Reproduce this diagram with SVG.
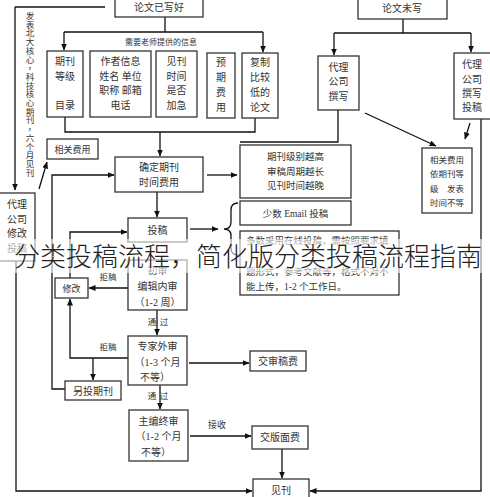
<svg xmlns="http://www.w3.org/2000/svg" width="490" height="497" viewBox="0 0 490 497">
<style>
.box{fill:#fff;stroke:#333;stroke-width:1.3}
.t{font-family:"Liberation Serif","Noto Sans CJK SC",serif;font-size:10px;fill:#333;text-anchor:middle}
.s{font-size:8.5px}
.ln{stroke:#111;stroke-width:1.3;fill:none}
.ar{marker-end:url(#ah)}
.title{font-family:"Noto Sans CJK SC","Noto Sans",sans-serif;font-size:26px;font-weight:300;fill:#222;text-anchor:middle}
</style>
<defs>
<marker id="ah" markerWidth="7" markerHeight="6" refX="6.5" refY="3" orient="auto" markerUnits="userSpaceOnUse">
<path d="M0,0 L7,3 L0,6 z" fill="#111"/>
</marker>
</defs>
<rect width="490" height="497" fill="#fff"/>
<g id="connectors">
<path class="ln" d="M15,7 H105"/>
<path class="ln ar" d="M15,7 V190"/>
<path class="ln ar" d="M16,261 V491 H252"/>
<path class="ln ar" d="M39,189 L47,162"/>
<path class="ln ar" d="M65,389 H52 V175 H114"/>
<path class="ln" d="M165,17 V32 M64,32 H263"/>
<path class="ln ar" d="M64,32 V50"/>
<path class="ln ar" d="M263,32 V52"/>
<path class="ln" d="M65,117 V132 H255 V118"/>
<path class="ln ar" d="M160,132 V156"/>
<path class="ln ar" d="M207,175 H237"/>
<path class="ln ar" d="M157,192 V217"/>
<path class="ln ar" d="M190,229 H218"/>
<path class="ln" d="M238,203 Q231,203 231,210 V222 Q231,229 224,229 Q231,229 231,236 V248 Q231,255 238,255"/>
<path class="ln ar" d="M70,278 V232 H127"/>
<path class="ln ar" d="M128,288 H89"/>
<path class="ln ar" d="M157,310 V335"/>
<path class="ln ar" d="M128,358 H70 V299"/>
<path class="ln ar" d="M93,358 V380"/>
<path class="ln ar" d="M189,363 H249"/>
<path class="ln ar" d="M160,385 V409"/>
<path class="ln ar" d="M190,436 H251"/>
<path class="ln ar" d="M282,449 V478"/>
<path class="ln ar" d="M481,119 V491 H310"/>
<path class="ln" d="M403,19 V33 M334,33 H471"/>
<path class="ln ar" d="M334,33 V55"/>
<path class="ln ar" d="M471,33 V52"/>
<path class="ln" d="M338,110 V142 H240"/>
<path class="ln ar" d="M365,113 L436,146"/>
<path class="ln ar" d="M470,123 L465,139"/>
<text class="t s" x="108" y="280">拒稿</text>
<text class="t s" x="108" y="350">拒稿</text>
<text class="t s" x="152" y="325">通</text><text class="t s" x="164" y="325">过</text>
<text class="t s" x="152" y="399">通</text><text class="t s" x="164" y="399">过</text>
<text class="t" x="217" y="428" style="font-size:9px">接收</text>
</g>
<text class="t" x="30" y="19 28 37 46 55 64 73 82 91 100 109 118 127 136 145 154 163 172 181" style="font-size:8.5px" transform="translate(0,0)"><tspan x="30" y="19">发</tspan><tspan x="30" y="27.7">表</tspan><tspan x="30" y="36.4">北</tspan><tspan x="30" y="45.1">大</tspan><tspan x="30" y="53.8">核</tspan><tspan x="30" y="62.5">心</tspan><tspan x="32" y="69.2">，</tspan><tspan x="30" y="79.9">科</tspan><tspan x="30" y="88.6">技</tspan><tspan x="30" y="97.3">核</tspan><tspan x="30" y="106">心</tspan><tspan x="30" y="114.7">期</tspan><tspan x="30" y="123.4">刊</tspan><tspan x="32" y="130.1">，</tspan><tspan x="30" y="140.8">六</tspan><tspan x="30" y="149.5">个</tspan><tspan x="30" y="158.2">月</tspan><tspan x="30" y="166.9">见</tspan><tspan x="30" y="175.6">刊</tspan></text>
<g id="n-written"><rect class="box" x="115" y="-2" width="88" height="19"/><text class="t" x="159" y="11">论文已写好</text></g>
<g id="n-unwritten"><rect class="box" x="358" y="-2" width="89" height="21"/><text class="t" x="402" y="12">论文未写</text></g>
<text class="t" x="161" y="45" style="font-size:8px">需要老师提供的信息</text>
<g id="n-level"><rect class="box" x="47" y="51" width="36" height="66"/><text class="t" x="65" y="65">期刊</text><text class="t" x="65" y="80">等级</text><text class="t" x="65" y="109">目录</text></g>
<g id="n-author"><rect class="box" x="90" y="51" width="61" height="66"/><text class="t" x="120.5" y="65">作者信息</text><text class="t" x="120.5" y="80">姓名 单位</text><text class="t" x="120.5" y="94">职称 邮箱</text><text class="t" x="120.5" y="109">电话</text></g>
<g id="n-time"><rect class="box" x="156" y="51" width="41" height="66"/><text class="t" x="176.5" y="65">见刊</text><text class="t" x="176.5" y="80">时间</text><text class="t" x="176.5" y="94">是否</text><text class="t" x="176.5" y="109">加急</text></g>
<g id="n-cost"><rect class="box" x="207" y="53" width="28" height="65"/><text class="t" x="221" y="66">预</text><text class="t" x="221" y="81">期</text><text class="t" x="221" y="96">费</text><text class="t" x="221" y="111">用</text></g>
<g id="n-copy"><rect class="box" x="242" y="53" width="36" height="65"/><text class="t" x="260" y="66">复制</text><text class="t" x="260" y="81">比较</text><text class="t" x="260" y="96">低的</text><text class="t" x="260" y="111">论文</text></g>
<g id="n-agent-write"><rect class="box" x="318" y="56" width="41" height="54"/><text class="t" x="338.5" y="71">代理</text><text class="t" x="338.5" y="85">公司</text><text class="t" x="338.5" y="100">撰写</text></g>
<g id="n-agent-submit"><rect class="box" x="454" y="53" width="40" height="66"/><text class="t" x="472" y="68">代理</text><text class="t" x="472" y="83">公司</text><text class="t" x="472" y="97">撰写</text><text class="t" x="472" y="111">投稿</text></g>
<g id="n-fee-left"><rect class="box" x="47" y="139" width="51" height="20"/><text class="t" x="72.5" y="152.5" style="font-size:9px">相关费用</text></g>
<g id="n-fee-right"><rect class="box" x="422" y="148" width="50" height="65"/><text class="t s" x="447" y="163">相关费用</text><text class="t s" x="447" y="177">依期刊等</text><text class="t s" x="447" y="192">级　发表</text><text class="t s" x="447" y="206">时间不等</text></g>
<g id="n-agent-edit"><rect class="box" x="-1" y="193" width="36" height="68"/><text class="t" x="17" y="208">代理</text><text class="t" x="17" y="223">公司</text><text class="t" x="17" y="237">修改</text><text class="t" x="17" y="252">投稿</text></g>
<g id="n-decide"><rect class="box" x="115" y="157" width="88" height="35"/><text class="t" x="159" y="171">确定期刊</text><text class="t" x="159" y="186">时间费用</text></g>
<g id="n-note1"><rect class="box" x="240" y="145" width="111" height="53"/><text class="t" x="295.5" y="160" style="font-size:9.5px">期刊级别越高</text><text class="t" x="295.5" y="175" style="font-size:9.5px">审稿周期越长</text><text class="t" x="295.5" y="189" style="font-size:9.5px">见刊时间越晚</text></g>
<g id="n-email"><rect class="box" x="240" y="201" width="111" height="24"/><text class="t" x="295.5" y="216.5" style="font-size:9.5px">少数 Email 投稿</text></g>
<g id="n-online"><rect class="box" x="240" y="231" width="159" height="64"/><text class="t" x="246" y="244" style="font-size:9.5px;text-anchor:start">多数采用在线投稿，需按照要求填</text><text class="t" x="246" y="275" style="font-size:9.5px;text-anchor:start">题形式，参考文献等，格式不对不</text><text class="t" x="246" y="290" style="font-size:9.5px;text-anchor:start">能上传，1-2 个工作日。</text></g>
<g id="n-submit"><rect class="box" x="128" y="218" width="59" height="24"/><text class="t" x="157.5" y="233.5">投稿</text></g>
<g id="n-revise"><rect class="box" x="55" y="278" width="33" height="20"/><text class="t" x="71.5" y="291.5" style="font-size:9px">修改</text></g>
<g id="n-first"><rect class="box" x="128" y="260" width="59" height="50"/><text class="t" x="157.5" y="274">初审</text><text class="t" x="157.5" y="290">编辑内审</text><text class="t" x="157.5" y="306">（1-2 周）</text></g>
<g id="n-expert"><rect class="box" x="128" y="336" width="59" height="49"/><text class="t" x="157.5" y="350">专家外审</text><text class="t" x="157.5" y="366">（1-3 个月</text><text class="t" x="155" y="381">不等）</text></g>
<g id="n-other"><rect class="box" x="65" y="381" width="56" height="19"/><text class="t" x="93" y="394.5">另投期刊</text></g>
<g id="n-reviewfee"><rect class="box" x="250" y="351" width="56" height="20"/><text class="t" x="278" y="364.5">交审稿费</text></g>
<g id="n-chief"><rect class="box" x="129" y="410" width="59" height="51"/><text class="t" x="158.5" y="425">主编终审</text><text class="t" x="158.5" y="440">（1-2 个月</text><text class="t" x="156" y="456">不等）</text></g>
<g id="n-pagefee"><rect class="box" x="252" y="426" width="56" height="23"/><text class="t" x="280" y="441">交版面费</text></g>
<g id="n-published"><rect class="box" x="253" y="479" width="56" height="24"/><text class="t" x="281" y="494">见刊</text></g>
<rect x="0" y="239" width="490" height="34" fill="#fff" opacity="0.6"/>
<text class="title" x="248" y="266">分类投稿流程，简化版分类投稿流程指南</text>
</svg>
